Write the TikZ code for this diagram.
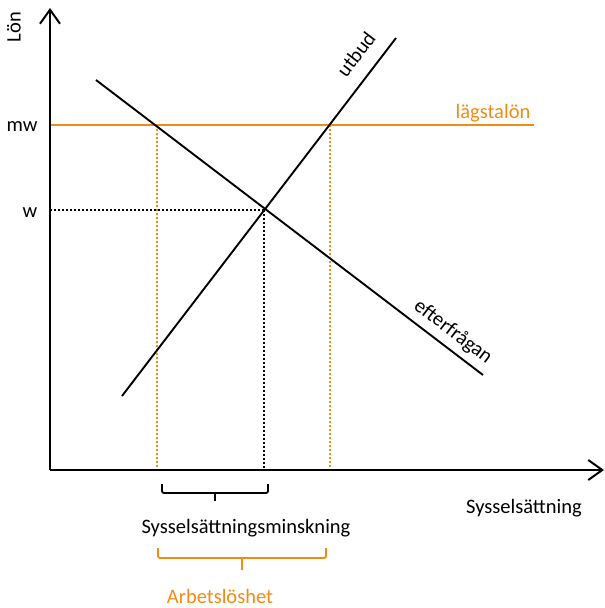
\documentclass[tikz,border=0pt]{standalone}
\usepackage{fontspec}
\setmainfont{Carlito}
\usetikzlibrary{arrows.meta}
\definecolor{lorange}{RGB}{240,140,20}
\begin{document}
\begin{tikzpicture}[x=1pt,y=-1pt,
  axis/.style={line width=2pt,-{Straight Barb[length=14pt,width=20pt,line width=2pt]}},
  curve/.style={line width=1.9pt},
  odot/.style={lorange,line width=2pt,dash pattern=on 2pt off 2pt},
  bdot/.style={black,line width=1.9pt,dash pattern=on 2pt off 2pt},
  lbl/.style={font=\fontsize{20.5}{24}\selectfont,inner sep=0pt},
  brc/.style={line width=1.8pt,rounded corners=2pt}]
\useasboundingbox (0,0) rectangle (605,608);
% coordinates
\coordinate (O) at (50,470);
\coordinate (Ytop) at (50,8);
\coordinate (Xend) at (604,470);
\coordinate (dA) at (96,80);
\coordinate (dB) at (483,375);
\coordinate (sA) at (122,396);
\coordinate (sB) at (396,38);
\coordinate (E) at (264,210);
\coordinate (mwL) at (50,125);
\coordinate (mwR) at (534,125);
\coordinate (mD) at (157,125);
\coordinate (mS) at (330,125);
\coordinate (wL) at (50,210);
\coordinate (mDb) at (157,470);
\coordinate (mSb) at (330,470);
\coordinate (Eb) at (264,470);
% dotted guides
\draw[bdot] (wL) -- (E);
\draw[bdot] (E) -- (Eb);
\draw[odot] (mD) -- (mDb);
\draw[odot] (mS) -- (mSb);
% minimum wage
\draw[lorange,line width=2.4pt] (mwL) -- (mwR);
% curves
\draw[curve] (dA) -- (dB);
\draw[curve] (sA) -- (sB);
% axes
\draw[axis] (O) -- (Ytop);
\draw[axis] (O) -- (Xend);
% labels
\node[lbl,rotate=90] (lon) at (14,27) {Lön};
\node[lbl] (mw) at (22,127) {mw};
\node[lbl] (w) at (30,213) {w};
\node[lbl,rotate=52.6] (utbud) at (356,54) {utbud};
\node[lbl,lorange] (lagsta) at (493,113) {lägstalön};
\node[lbl,rotate=-37.3] (efter) at (453,332) {efterfrågan};
\node[lbl] (syss) at (524,508) {Sysselsättning};
% braces
\draw[brc] (162,484) -- (162,493) -- (268,493) -- (268,484);
\draw[line width=1.8pt] (215,493) -- (215,501);
\node[lbl] (minsk) at (246,528) {Sysselsättningsminskning};
\draw[brc,lorange] (158,548) -- (158,558) -- (326,558) -- (326,548);
\draw[lorange,line width=1.8pt] (242,558) -- (242,570);
\node[lbl,lorange] (arb) at (220,596) {Arbetslöshet};
\end{tikzpicture}
\end{document}
